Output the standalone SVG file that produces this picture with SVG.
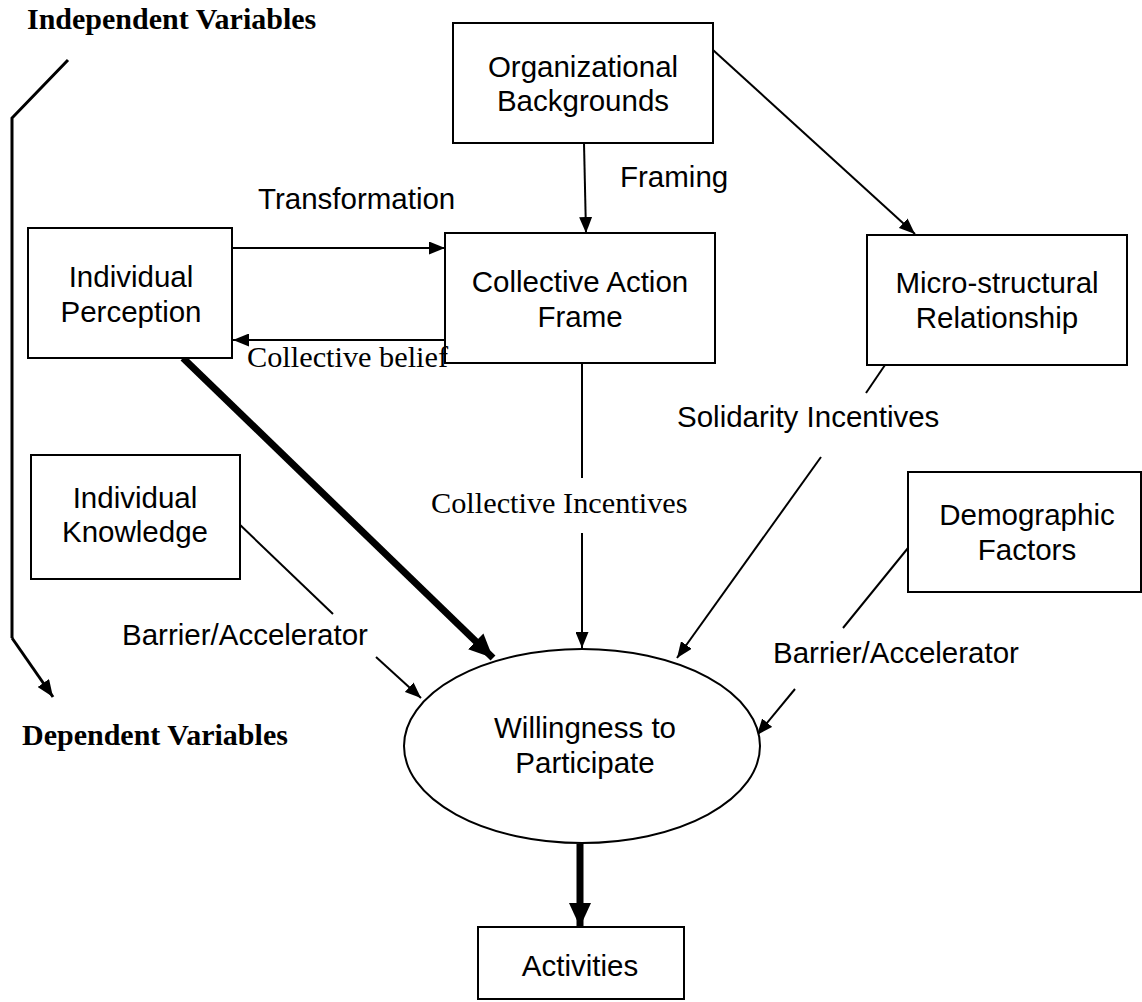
<svg xmlns="http://www.w3.org/2000/svg" width="1142" height="1002" viewBox="0 0 1142 1002">
<style>
.box{fill:#fff;stroke:#000;stroke-width:2}
.t{font-family:"Liberation Sans",Arial,sans-serif;font-size:29.5px;fill:#000}
.m{text-anchor:middle}
.s{font-family:"Liberation Serif","Times New Roman",serif;font-size:30.3px;fill:#000}
.b{font-family:"Liberation Serif","Times New Roman",serif;font-size:30px;font-weight:bold;fill:#000}
.ln{stroke:#000;stroke-width:2;fill:none}
.a{marker-end:url(#ah)}
.thick{stroke:#000;stroke-width:7;fill:none;marker-end:url(#ahb)}
.br{stroke:#000;stroke-width:3;fill:none}
</style>
<defs>
<marker id="ah" markerUnits="userSpaceOnUse" markerWidth="17" markerHeight="13" refX="16" refY="6.5" orient="auto">
<path d="M0,0 L16,6.5 L0,13 z" fill="#000"/>
</marker>
<marker id="ahb" markerUnits="userSpaceOnUse" markerWidth="26" markerHeight="24" refX="24" refY="11" orient="auto">
<path d="M0,0 L24,11 L0,22 z" fill="#000"/>
</marker>
<marker id="ahs" markerUnits="userSpaceOnUse" markerWidth="18" markerHeight="14" refX="17" refY="7" orient="auto">
<path d="M0,0 L17,7 L0,14 z" fill="#000"/>
</marker>
</defs>
<rect width="1142" height="1002" fill="#fff"/>

<g id="connectors">
<polyline class="br" points="68,60 12,118 12,638" />
<line class="br" x1="12" y1="638" x2="53" y2="697" marker-end="url(#ahs)"/>
<line class="ln a" x1="584" y1="143" x2="586" y2="233"/>
<line class="ln a" x1="713" y1="50" x2="915" y2="234"/>
<line class="ln a" x1="232" y1="248" x2="445" y2="248"/>
<line class="ln a" x1="445" y1="340" x2="233" y2="340"/>
<line class="ln" x1="582" y1="363" x2="582" y2="478"/>
<line class="ln a" x1="582" y1="533" x2="582" y2="648"/>
<line class="ln" x1="885" y1="365" x2="866" y2="393"/>
<line class="ln a" x1="821" y1="457" x2="677" y2="658"/>
<line class="ln" x1="908" y1="548" x2="843" y2="628"/>
<line class="ln a" x1="795" y1="689" x2="757" y2="735"/>
<line class="ln" x1="237" y1="522" x2="333" y2="614"/>
<line class="ln a" x1="376" y1="657" x2="421" y2="698"/>
<line class="thick" x1="183" y1="358" x2="493" y2="658"/>
<line class="thick" x1="580" y1="844" x2="580" y2="927"/>
</g>

<g id="organizational-backgrounds">
<rect class="box" x="453" y="23" width="260" height="120"/>
<text class="t m" x="583" y="77">Organizational</text>
<text class="t m" x="583" y="111">Backgrounds</text>
</g>

<g id="individual-perception">
<rect class="box" x="28" y="228" width="204" height="130"/>
<text class="t m" x="131" y="287">Individual</text>
<text class="t m" x="131" y="322">Perception</text>
</g>

<g id="collective-action-frame">
<rect class="box" x="445" y="233" width="270" height="130"/>
<text class="t m" x="580" y="292">Collective Action</text>
<text class="t m" x="580" y="327">Frame</text>
</g>

<g id="micro-structural">
<rect class="box" x="867" y="235" width="260" height="130"/>
<text class="t m" x="997" y="293">Micro-structural</text>
<text class="t m" x="997" y="328">Relationship</text>
</g>

<g id="individual-knowledge">
<rect class="box" x="31" y="455" width="209" height="124"/>
<text class="t m" x="135" y="508">Individual</text>
<text class="t m" x="135" y="542">Knowledge</text>
</g>

<g id="demographic-factors">
<rect class="box" x="908" y="472" width="233" height="120"/>
<text class="t m" x="1027" y="525">Demographic</text>
<text class="t m" x="1027" y="560">Factors</text>
</g>

<g id="willingness">
<ellipse class="box" cx="582" cy="746" rx="178" ry="97"/>
<text class="t m" x="585" y="738">Willingness to</text>
<text class="t m" x="585" y="773">Participate</text>
</g>

<g id="activities">
<rect class="box" x="478" y="927" width="206" height="72"/>
<text class="t m" x="580" y="976">Activities</text>
</g>

<g id="labels">
<text class="b" x="27" y="29">Independent Variables</text>
<text class="b" x="22" y="745">Dependent Variables</text>
<text class="t" x="258" y="209">Transformation</text>
<text class="t" x="620" y="187">Framing</text>
<text class="s" x="247" y="367">Collective belief</text>
<text class="s" x="431" y="513">Collective Incentives</text>
<text class="t" x="677" y="427">Solidarity Incentives</text>
<text class="t" x="122" y="645">Barrier/Accelerator</text>
<text class="t" x="773" y="663">Barrier/Accelerator</text>
</g>
</svg>
